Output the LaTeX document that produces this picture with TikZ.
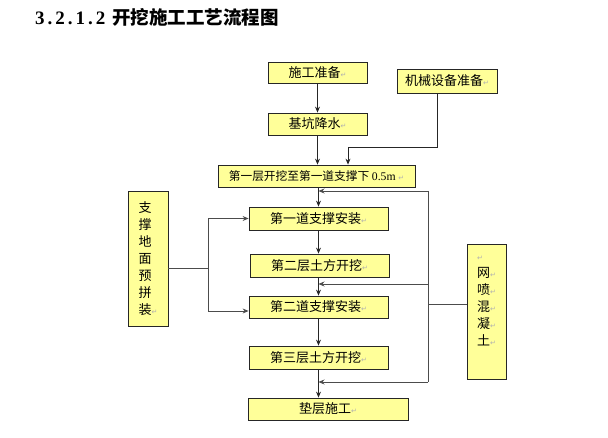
\documentclass[tikz,border=0pt]{standalone}
\usepackage{fontspec}
\setmainfont{Liberation Serif}
\newfontfamily\cjk{Noto Sans CJK SC}
\newfontfamily\symf{DejaVu Sans}
\usetikzlibrary{arrows.meta}
\definecolor{boxfill}{HTML}{FFFF99}
\definecolor{retc}{HTML}{B0B0B0}
\newcommand{\ret}{{\symf\fontsize{7}{7}\selectfont\textcolor{retc}{↵}}}
\newcommand{\tsp}{\hspace{3pt}}
\tikzset{
  bx/.style={draw=black!85, fill=boxfill, line width=0.8pt, inner sep=0pt,
    font=\cjk\fontsize{13}{15}\selectfont},
  vbx/.style={bx, align=left, font=\cjk\fontsize{13}{17}\selectfont},
  conn/.style={draw=black!85, line width=0.8pt},
  arr/.style={conn, -{Stealth[length=6pt,width=5pt]}},
  arrg/.style={draw=black!70, line width=0.8pt, -{Stealth[length=6pt,width=5pt]}},
}
\begin{document}
\begin{tikzpicture}[x=1pt,y=-1pt]
\useasboundingbox (0,0) rectangle (608,438);
% title
\node[anchor=west, inner sep=0pt] (title) at (35,17)
  {{\rmfamily\bfseries\fontsize{19}{19}\selectfont 3\tsp.\tsp2\tsp.\tsp1\tsp.\tsp2}\hspace{7pt}{\cjk\bfseries\fontsize{18.5}{18}\selectfont 开挖施工工艺流程图}};
% main column
\node[bx, minimum width=99, minimum height=21] (n1) at (317.5,72.5) {施工准备\ret};
\node[bx, minimum width=99, minimum height=22] (n2) at (317.5,124) {基坑降水\ret};
\node[bx, minimum width=100, minimum height=24] (m) at (447,81) {机械设备准备\ret};
\node[bx, minimum width=197, minimum height=22, font=\cjk\fontsize{11.7}{14}\selectfont] (n3) at (316.5,176)
  {第一层开挖至第一道支撑下 {\rmfamily 0.5m} \ret};
\node[bx, minimum width=139, minimum height=23] (n4) at (318.5,218.5) {第一道支撑安装\ret};
\node[bx, minimum width=139, minimum height=23] (n5) at (319.5,265.5) {第二层土方开挖\ret};
\node[bx, minimum width=139, minimum height=22] (n6) at (318.5,307) {第二道支撑安装\ret};
\node[bx, minimum width=139, minimum height=23] (n7) at (318.5,357.5) {第三层土方开挖\ret};
\node[bx, minimum width=160, minimum height=22] (n8) at (328,409) {垫层施工\ret};
% side boxes
\node[vbx, minimum width=40, minimum height=135] (L) at (148,258.5)
  {支\\撑\\地\\面\\预\\拼\\装\ret};
\node[vbx, minimum width=39, minimum height=135] (R) at (486.5,311.5)
  {\ret\\网\ret\\喷\ret\\混\ret\\凝\ret\\土\ret\\\strut};
% main arrows
\draw[arr] (n1.south) -- (n1.south |- n2.north);
\draw[arr] (n2.south) -- (n2.south |- n3.north);
\draw[arr] ([xshift=-10pt]m.south) -- ++(0,54) -| ([xshift=31.5pt]n3.north);
\draw[arr] (n4.north |- n3.south) -- (n4.north);
\draw[arr] (n4.south) -- (n4.south |- n5.north);
\draw[arr] (n6.north |- n5.south) -- (n6.north);
\draw[arr] (n6.south) -- (n7.north);
\draw[arr] (n7.south) -- (n7.south |- n8.north);
% right loop
\coordinate (j1) at (428,191);
\coordinate (j2) at (428,284);
\coordinate (j3) at (428,382);
\coordinate (j4) at (428,304);
\draw[arrg] (j1) -- (j1 -| n4.north);
\draw[arrg] (j2) -- (j2 -| n6.north);
\draw[arrg] (j3) -- (j3 -| n7.south);
\draw[conn, draw=black!70] (j1) -- (j3);
\draw[conn, draw=black!70] (R.west |- j4) -- (j4);
% left branch
\coordinate (k) at (208,268);
\draw[conn, draw=black!70] (L.east |- k) -- (k);
\draw[arrg] (k) |- (n4.west);
\draw[arrg] (k) |- ([yshift=-4pt]n6.west);
\end{tikzpicture}
\end{document}
